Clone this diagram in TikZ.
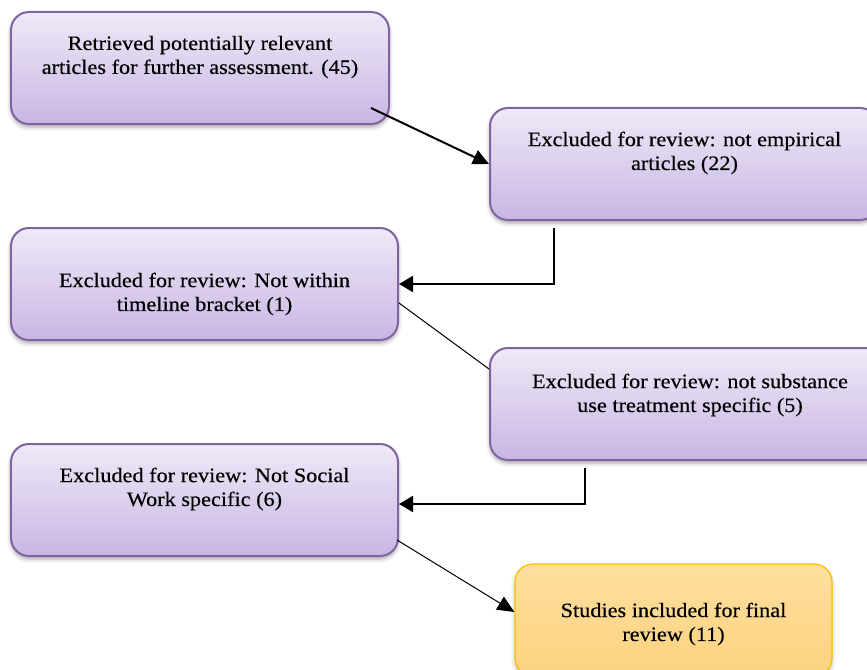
\documentclass[tikz,border=0pt]{standalone}
\usepackage{fontspec}
\setmainfont{Liberation Serif}[FakeStretch=1.09,FakeBold=0.35]
\usetikzlibrary{arrows.meta,shadows.blur,calc}
\definecolor{pborder}{HTML}{8064A2}
\definecolor{ptop}{HTML}{EFE9F7}
\definecolor{pbot}{HTML}{C9B6E4}
\definecolor{otop}{HTML}{FEDF9F}
\definecolor{obot}{HTML}{FCD27E}
\definecolor{oborder}{HTML}{FFC000}
\tikzset{
  pbox/.style={draw=pborder, line width=2bp, rounded corners=18bp,
    top color=ptop, bottom color=pbot, minimum height=112bp, inner sep=0pt,
    blur shadow={shadow xshift=0bp, shadow yshift=-3bp, shadow blur radius=4bp, shadow opacity=35}},
  obox/.style={draw=oborder, line width=1.2bp, rounded corners=18bp,
    top color=otop, bottom color=obot, minimum height=112bp, inner sep=0pt,
    blur shadow={shadow xshift=0bp, shadow yshift=-3bp, shadow blur radius=4bp, shadow opacity=30}},
  txt/.style={font=\fontsize{20.5}{24}\selectfont, align=center, inner sep=0pt, text=black},
  thickarrow/.style={line width=2bp, -{Triangle[length=16bp,width=15bp]}},
  elbowarrow/.style={line width=2bp, -{Triangle[length=14bp,width=16bp]}},
  thinline/.style={line width=1bp},
  thinarrow/.style={line width=1bp, -{Triangle[length=17bp,width=15bp]}}
}
\begin{document}
\begin{tikzpicture}[x=1bp,y=-1bp]
\useasboundingbox (0,0) rectangle (867,670);
% boxes
\node[pbox, minimum width=378bp] (b1) at (200,68) {};
\node[pbox, minimum width=388bp] (b2) at (684,164) {};
\node[pbox, minimum width=387bp] (b3) at (204.5,284) {};
\node[pbox, minimum width=394bp] (b4) at (687,404) {};
\node[pbox, minimum width=387bp] (b5) at (204.5,500) {};
\node[obox, minimum width=317bp] (b6) at (673.5,620) {};
% texts
\node[txt] (t1) at (200,57) {Retrieved potentially relevant\\articles for further assessment. (45)};
\node[txt] (t2) at (684.5,153) {Excluded for review: not empirical\\articles (22)};
\node[txt] (t3) at (204.5,294) {Excluded for review: Not within\\timeline bracket (1)};
\node[txt] (t4) at (690,395) {Excluded for review: not substance\\use treatment specific (5)};
\node[txt] (t5) at (204.5,489) {Excluded for review: Not Social\\Work specific (6)};
\node[txt] (t6) at (673.5,624) {Studies included for final\\review (11)};
% connectors
\coordinate (s12) at (371,108);
\draw[thickarrow] (s12) -- (b2.west);
\coordinate (s23) at (554,228);
\draw[elbowarrow] (s23) |- (b3.east);
\draw[thinline] ($(b3.east)+(0,19)$) -- ($(b4.west)+(0,-35)$);
\coordinate (s45) at (585,468);
\draw[elbowarrow] (s45) |- ($(b5.east)+(0,4)$);
\draw[thinarrow] ($(b5.east)+(-2,40)$) -- ($(b6.west)+(0,-8)$);
\end{tikzpicture}
\end{document}
